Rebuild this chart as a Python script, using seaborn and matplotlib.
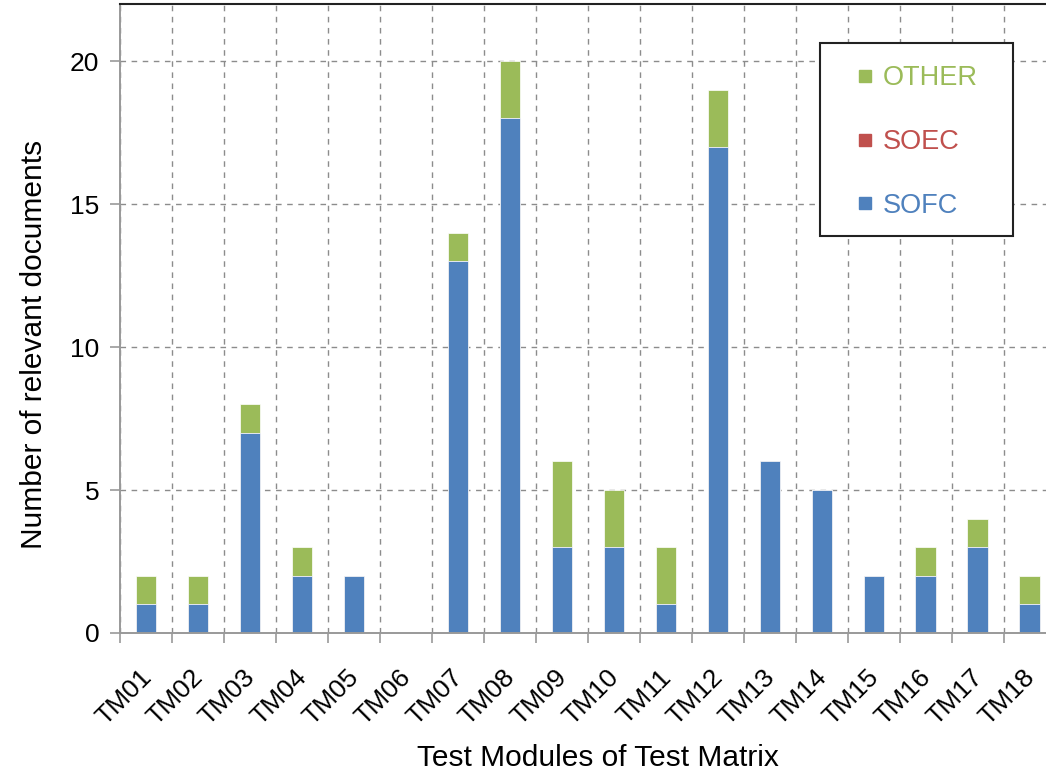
import matplotlib
matplotlib.use("Agg")
import matplotlib.pyplot as plt
from matplotlib.lines import Line2D
from matplotlib.patches import Rectangle
from matplotlib.transforms import ScaledTranslation
import numpy as np
import seaborn as sns

modules = ["TM01", "TM02", "TM03", "TM04", "TM05", "TM06", "TM07", "TM08", "TM09",
           "TM10", "TM11", "TM12", "TM13", "TM14", "TM15", "TM16", "TM17", "TM18"]
sofc = [1, 1, 7, 2, 2, 0, 13, 18, 3, 3, 1, 17, 6, 5, 2, 2, 3, 1]
soec = [0, 0, 0, 0, 0, 0, 0, 0, 0, 0, 0, 0, 0, 0, 0, 0, 0, 0]
other = [1, 1, 1, 1, 0, 0, 1, 2, 3, 2, 2, 2, 0, 0, 0, 1, 1, 1]

c_sofc = "#4F81BD"
c_soec = "#C0504D"
c_other = "#9BBB59"

sns.set_theme(style="white")
plt.rcParams["font.family"] = ["Liberation Sans", "DejaVu Sans"]
plt.rcParams["text.color"] = "black"

fig = plt.figure(figsize=(10.46, 7.73), dpi=100)
ax = fig.add_axes([120 / 1046, 140 / 773, 926 / 1046, 629 / 773])

s1 = np.array(sofc)
s2 = s1 + np.array(soec)
s3 = s2 + np.array(other)

kw = dict(order=modules, width=0.4, saturation=1, ax=ax, edgecolor="white", linewidth=0.5)
sns.barplot(x=modules, y=s3, color=c_other, **kw)
sns.barplot(x=modules, y=s2, color=c_soec, **kw)
sns.barplot(x=modules, y=s1, color=c_sofc, **kw)

ax.set_ylim(0, 22)
ax.set_xlim(-0.5, 17.31)
ax.set_yticks([0, 5, 10, 15, 20])
ax.set_xticks(np.arange(len(modules)) - 0.5, minor=True)

grid_kw = dict(color="#8c8c8c", linestyle=(0, (4, 4)), linewidth=1.0)
ax.grid(axis="y", which="major", **grid_kw)
ax.grid(axis="x", which="minor", **grid_kw)
ax.grid(axis="x", which="major", visible=False)
ax.set_axisbelow(True)

ax.tick_params(axis="x", which="major", length=0, pad=23, labelsize=19, labelcolor="black")
ax.tick_params(axis="x", which="minor", length=7, width=1.2, color="#999999", bottom=True)
ax.tick_params(axis="y", length=7, width=1.2, color="#999999", labelsize=19,
               labelcolor="black", left=True, pad=8)
shift = ScaledTranslation(-7 / 100, 0, fig.dpi_scale_trans)
for lab in ax.get_xticklabels():
    lab.set_rotation(45)
    lab.set_ha("right")
    lab.set_rotation_mode("anchor")
    lab.set_transform(lab.get_transform() + shift)

for side in ["left", "bottom"]:
    ax.spines[side].set_color("#999999")
    ax.spines[side].set_linewidth(1.4)
ax.spines["top"].set_color("#222222")
ax.spines["top"].set_linewidth(1.5)
ax.spines["right"].set_visible(False)

ax.set_xlabel("Test Modules of Test Matrix", fontsize=21.5, color="black")
ax.set_ylabel("Number of relevant documents", fontsize=21.5, color="black")
ax.xaxis.set_label_coords(0.516, -0.176)
ax.yaxis.set_label_coords(-0.078, 0.458)

# legend box
ax.add_patch(Rectangle((820 / 1046, (773 - 236) / 773), 193 / 1046, 193 / 773,
                       transform=fig.transFigure, fill=True, facecolor="white",
                       edgecolor="#222222", linewidth=1.5, zorder=5))
handles = [Line2D([], [], marker="s", linestyle="none", markersize=8.5, color=c)
           for c in [c_other, c_soec, c_sofc]]
leg = ax.legend(handles, ["OTHER", "SOEC", "SOFC"], loc="center",
                bbox_to_anchor=(917 / 1046, (773 - 142) / 773), bbox_transform=fig.transFigure,
                frameon=False, fontsize=19.5, labelspacing=1.4, handlelength=0.6,
                handletextpad=0.35, labelcolor=[c_other, c_soec, c_sofc])
leg.set_zorder(6)

fig.savefig("out.png", dpi=100)
